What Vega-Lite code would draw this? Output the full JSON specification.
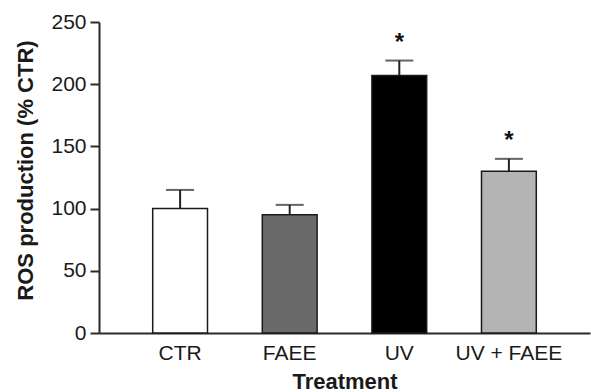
{
  "$schema": "https://vega.github.io/schema/vega-lite/v6.json",
  "width": 491,
  "height": 311,
  "autosize": "none",
  "padding": {"left": 99, "top": 22, "right": 1, "bottom": 59},
  "background": "white",
  "config": {
    "view": {"stroke": null},
    "font": "Liberation Sans",
    "axis": {"grid": false, "domainColor": "#2a2a2a", "domainWidth": 2, "tickColor": "#2a2a2a", "tickWidth": 2, "labelColor": "#1a1a1a", "titleColor": "#1a1a1a"}
  },
  "data": {
    "values": [
      {"treatment": "CTR", "mean": 100, "upper": 115, "sig": ""},
      {"treatment": "FAEE", "mean": 95, "upper": 103, "sig": ""},
      {"treatment": "UV", "mean": 207, "upper": 219, "sig": "*"},
      {"treatment": "UV + FAEE", "mean": 130, "upper": 140, "sig": "*"}
    ]
  },
  "encoding": {
    "x": {
      "field": "treatment",
      "type": "nominal",
      "sort": ["CTR", "FAEE", "UV", "UV + FAEE"],
      "scale": {"paddingInner": 0.5, "paddingOuter": 0.49},
      "axis": {
        "title": "Treatment",
        "labelAngle": 0,
        "ticks": false,
        "labelFontSize": 21,
        "labelPadding": 9,
        "titleFontSize": 22,
        "titleFontWeight": "bold",
        "titleBaseline": "alphabetic",
        "titleY": 55
      }
    }
  },
  "layer": [
    {
      "mark": {"type": "rule", "color": "#222", "strokeWidth": 2},
      "encoding": {
        "y": {"field": "mean", "type": "quantitative"},
        "y2": {"field": "upper"}
      }
    },
    {
      "mark": {"type": "tick", "color": "#222", "size": 28, "thickness": 2, "orient": "horizontal"},
      "encoding": {
        "y": {"field": "upper", "type": "quantitative"}
      }
    },
    {
      "mark": {"type": "bar", "stroke": "#1a1a1a", "strokeWidth": 1.5},
      "encoding": {
        "y": {
          "field": "mean",
          "type": "quantitative",
          "scale": {"domain": [0, 250], "nice": false},
          "axis": {
            "title": "ROS production (% CTR)",
            "values": [0, 50, 100, 150, 200, 250],
            "tickSize": 9,
            "labelPadding": 4,
            "labelFontSize": 21,
            "titleFontSize": 22,
            "titleFontWeight": "bold",
            "titleBaseline": "alphabetic",
            "titleAlign": "center",
            "titleAngle": -90,
            "titleX": -67,
            "titleY": 148
          }
        },
        "fill": {
          "field": "treatment",
          "type": "nominal",
          "scale": {"domain": ["CTR", "FAEE", "UV", "UV + FAEE"], "range": ["#ffffff", "#6a6a6a", "#000000", "#b4b4b4"]},
          "legend": null
        }
      }
    },
    {
      "mark": {"type": "text", "fontSize": 24, "fontWeight": "bold", "baseline": "alphabetic", "dy": -11, "color": "#111"},
      "encoding": {
        "y": {"field": "upper", "type": "quantitative"},
        "text": {"field": "sig"}
      }
    }
  ]
}
